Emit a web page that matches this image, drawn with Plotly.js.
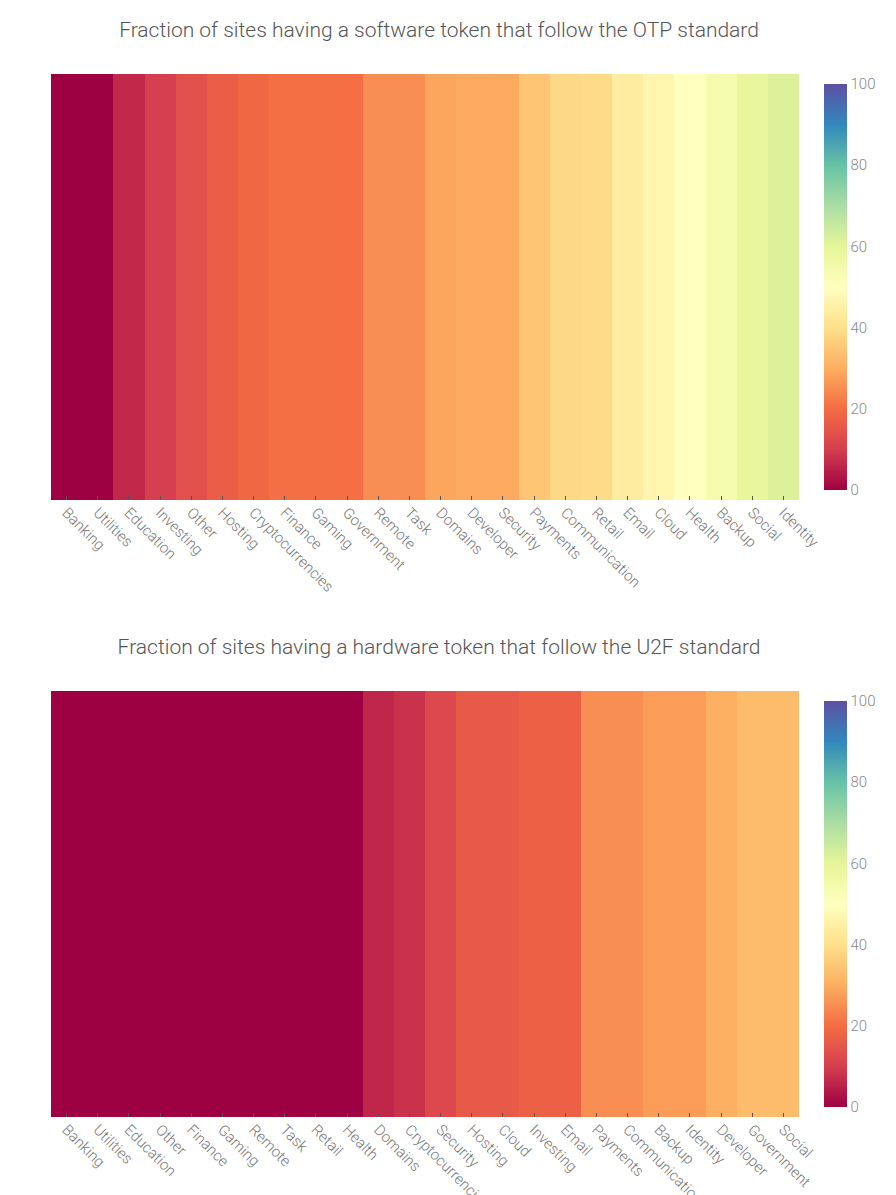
<!DOCTYPE html>
<html>
<head>
<meta charset="utf-8">
<script src="https://cdn.plot.ly/plotly-3.0.1.min.js"></script>
<style>
	body { margin: 0; background: #fff; }
	.chart { width: 896px; height: 617px; }
</style>
</head>
<body>
<div id="otp" class="chart"></div>
<div id="u2f" class="chart"></div>
<script>
(function () {

	'use strict';

	// software token / OTP
	const otpCategories = [
		'Banking', 'Utilities', 'Education', 'Investing', 'Other', 'Hosting',
		'Cryptocurrencies', 'Finance', 'Gaming', 'Government', 'Remote', 'Task',
		'Domains', 'Developer', 'Security', 'Payments', 'Communication', 'Retail',
		'Email', 'Cloud', 'Health', 'Backup', 'Social', 'Identity'
	];
	const otpValues = [
		0, 0, 6.4, 10.3, 13.8, 16.8,
		18.8, 20.3, 20.3, 20.3, 25, 25,
		28.6, 29.4, 29.4, 34.6, 38.6, 38.9,
		44, 46.8, 50, 54.5, 59, 61.5
	];

	// hardware token / U2F
	const u2fCategories = [
		'Banking', 'Utilities', 'Education', 'Other', 'Finance', 'Gaming',
		'Remote', 'Task', 'Retail', 'Health', 'Domains', 'Cryptocurrencies',
		'Security', 'Hosting', 'Cloud', 'Investing', 'Email', 'Payments',
		'Communication', 'Backup', 'Identity', 'Developer', 'Government', 'Social'
	];
	const u2fValues = [
		0, 0, 0, 0, 0, 0,
		0, 0, 0, 0, 6, 8,
		12.2, 16, 16, 17.4, 17.4, 25,
		25, 27.3, 27.3, 30.2, 32.6, 32.6
	];

	const colorTicks = [0, 20, 40, 60, 80, 100];

	// spectral, red at 0 -> purple at 100
	const spectral = [
		[0.0, '#9e0142'], [0.1, '#d53e4f'], [0.2, '#f46d43'], [0.3, '#fdae61'],
		[0.4, '#fee08b'], [0.5, '#ffffbf'], [0.6, '#e6f598'], [0.7, '#abdda4'],
		[0.8, '#66c2a5'], [0.9, '#3288bd'], [1.0, '#5e4fa2']
	];

	const font = 'Roboto, "Open Sans", sans-serif';

	/**
	* draw one single-row heatmap
	*/
	const drawHeat = ( div, title, categories, values ) => {

		const trace = {
			type: 'heatmap',
			x: categories,
			z: [ values ],
			zmin: 0,
			zmax: 100,
			colorscale: spectral,
			hovertemplate: '%{x}<br>%{z}%<extra></extra>',
			colorbar: {
				thickness: 23,
				outlinewidth: 0,
				tickvals: colorTicks,
				ticks: '',
				tickfont: { family: font, size: 15, weight: 300, color: '#888' }
			}
		};

		const layout = {
			title: {
				text: title,
				font: { family: font, size: 21, weight: 300, color: '#555' },
				x: 0.49,
				xanchor: 'center',
				y: 1 - 30 / 617,
				yanchor: 'middle'
			},
			width: 896,
			height: 617,
			margin: { l: 51, r: 97, t: 74, b: 117 },
			paper_bgcolor: '#fff',
			plot_bgcolor: '#fff',
			font: { family: font },
			xaxis: {
				type: 'category',
				tickangle: 45,
				ticks: 'inside',
				ticklen: 4,
				tickcolor: '#555',
				showgrid: false,
				zeroline: false,
				tickfont: { family: font, size: 15, weight: 300, color: '#777' }
			},
			yaxis: {
				showticklabels: false,
				showgrid: false,
				zeroline: false,
				ticks: ''
			}
		};

		Plotly.newPlot( div, [ trace ], layout, { displayModeBar: false } );
	};

	drawHeat( 'otp', 'Fraction of sites having a software token that follow the OTP standard', otpCategories, otpValues );
	drawHeat( 'u2f', 'Fraction of sites having a hardware token that follow the U2F standard', u2fCategories, u2fValues );

})();
</script>
</body>
</html>
